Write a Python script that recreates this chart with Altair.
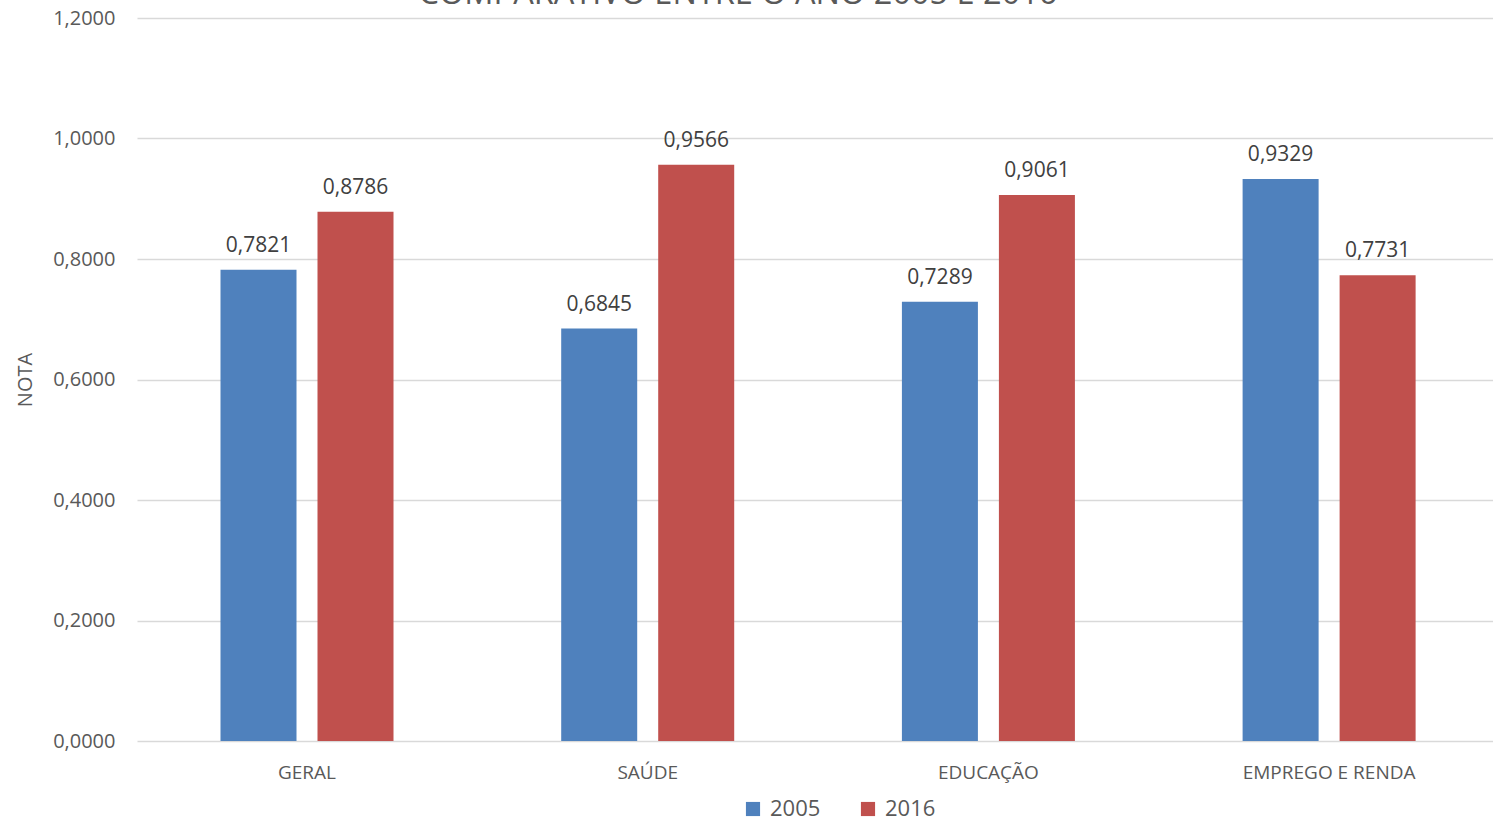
import altair as alt
import pandas as pd

categories = ["GERAL", "SAÚDE", "EDUCAÇÃO", "EMPREGO E RENDA"]
series = ["2005", "2016"]
values_2005 = [0.7821, 0.6845, 0.7289, 0.9329]
values_2016 = [0.8786, 0.9566, 0.9061, 0.7731]
y_ticks = [0.0, 0.2, 0.4, 0.6, 0.8, 1.0, 1.2]
colors = ["#4F81BD", "#C0504D"]
title_text = "COMPARATIVO ENTRE O ANO 2005 E 2016"

rows = []
for c, a, b in zip(categories, values_2005, values_2016):
    rows.append({"cat": c, "ano": series[0], "nota": a})
    rows.append({"cat": c, "ano": series[1], "nota": b})
df = pd.DataFrame(rows)
df["label"] = df["nota"].map(lambda v: f"{v:.4f}".replace(".", ","))

FONT = "Open Sans"

x = alt.X("cat:N", sort=categories, title=None,
          scale=alt.Scale(paddingInner=0.4922, paddingOuter=0.2361, align=0.519),
          axis=alt.Axis(labelAngle=0, labelFontSize=19, labelColor="#595959",
                        labelFont=FONT, ticks=False, domain=False, labelPadding=22,
                        grid=False, domainOpacity=0, gridOpacity=0))
xoff = alt.XOffset("ano:N", sort=series,
                   scale=alt.Scale(paddingInner=0.2165, paddingOuter=0))
y = alt.Y("nota:Q", title="NOTA",
          scale=alt.Scale(domain=[0, 1.2], nice=False, zero=True),
          axis=alt.Axis(values=y_ticks,
                        labelExpr="replace(format(datum.value, '.4f'), '.', ',')",
                        labelFontSize=20, labelColor="#595959", labelFont=FONT,
                        labelPadding=22, ticks=False, domain=False, domainOpacity=0,
                        gridColor="#D9D9D9", gridWidth=1.5,
                        titleFont=FONT, titleFontSize=20, titleColor="#595959",
                        titleFontWeight="normal", titlePadding=17))

color = alt.Color("ano:N", sort=series,
                  scale=alt.Scale(domain=series, range=colors),
                  legend=alt.Legend(title=None, orient="none", direction="horizontal",
                                    legendX=605, legendY=780, symbolType="square",
                                    symbolSize=200, symbolStrokeWidth=0,
                                    labelFontSize=22, labelColor="#595959",
                                    labelFont=FONT, columnPadding=36, labelOffset=6))

base = alt.Chart(df).encode(x=x, xOffset=xoff, y=y)
bars = base.mark_bar().encode(color=color)
labels = base.mark_text(baseline="alphabetic", dy=-18, fontSize=21,
                        font=FONT, color="#404040").encode(text="label:N")

title_df = pd.DataFrame({"t": [title_text]})
title_mark = alt.Chart(title_df).mark_text(
    baseline="alphabetic", align="center", fontSize=32.5, font=FONT,
    color="#595959").encode(
    x=alt.value(601), y=alt.value(-14), text="t:N")

chart = alt.layer(bars, labels, title_mark).properties(
    width=1356, height=723,
    padding={"left": 137, "top": 18, "right": 0, "bottom": 77},
    autosize=alt.AutoSizeParams(type="none"),
    view=alt.ViewBackground(stroke="transparent", strokeWidth=0),
).configure_view(strokeWidth=0, stroke="transparent", strokeOpacity=0).configure_axis(
    domain=False, domainOpacity=0).configure(background="white")

chart.save("out.html", embed_options={"renderer": "svg", "actions": False})
